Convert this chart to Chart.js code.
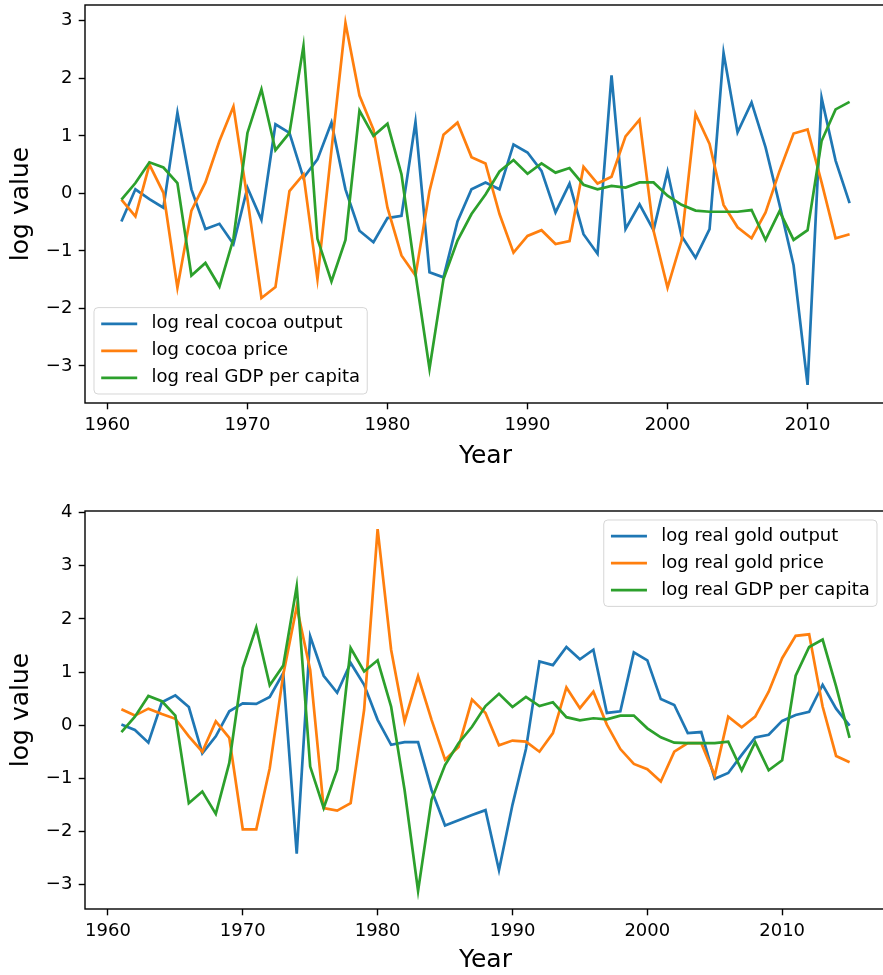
<!DOCTYPE html>
<html>
<head>
<meta charset="utf-8">
<script src="https://cdn.jsdelivr.net/npm/chart.js@4.4.0/dist/chart.umd.min.js"></script>
<style>
  html, body { margin: 0; padding: 0; background: #fff; }
  #page {
    width: 883px;
    height: 975px;
    position: relative;
    overflow: clip;
    contain: paint;
  }
  #page canvas { position: absolute; left: 0; }
  #cocoa { top: 0; }
  #gold { top: 490px; }
</style>
</head>
<body>
<div id="page">
  <canvas id="cocoa" width="890" height="490"></canvas>
  <canvas id="gold" width="890" height="485"></canvas>
</div>
<script>
// ---- cocoa panel, 1961-2013 ----
const cocoaYears = [
  1961, 1962, 1963, 1964, 1965, 1966, 1967, 1968, 1969, 1970,
  1971, 1972, 1973, 1974, 1975, 1976, 1977, 1978, 1979, 1980,
  1981, 1982, 1983, 1984, 1985, 1986, 1987, 1988, 1989, 1990,
  1991, 1992, 1993, 1994, 1995, 1996, 1997, 1998, 1999, 2000,
  2001, 2002, 2003, 2004, 2005, 2006, 2007, 2008, 2009, 2010,
  2011, 2012, 2013
];
const cocoaOutput = [
  -0.49, 0.07, -0.10, -0.25, 1.40, 0.07, -0.62, -0.53, -0.88, 0.10,
  -0.46, 1.20, 1.05, 0.27, 0.59, 1.23, 0.07, -0.65, -0.85, -0.43,
  -0.39, 1.24, -1.37, -1.46, -0.49, 0.07, 0.19, 0.07, 0.85, 0.71,
  0.39, -0.33, 0.17, -0.71, -1.05, 2.05, -0.62, -0.19, -0.64, 0.38,
  -0.74, -1.12, -0.62, 2.44, 1.06, 1.58, 0.80, -0.20, -1.25, -3.33,
  1.66, 0.57, -0.17
];
const cocoaPrice = [
  -0.11, -0.40, 0.50, 0.01, -1.64, -0.30, 0.19, 0.91, 1.51, -0.10,
  -1.82, -1.63, 0.04, 0.33, -1.49, 0.75, 2.96, 1.70, 1.11, -0.25,
  -1.08, -1.43, 0.04, 1.02, 1.23, 0.63, 0.52, -0.36, -1.03, -0.74,
  -0.64, -0.88, -0.83, 0.46, 0.17, 0.29, 0.99, 1.28, -0.65, -1.64,
  -0.82, 1.38, 0.86, -0.20, -0.59, -0.78, -0.33, 0.39, 1.04, 1.11,
  0.19, -0.78, -0.71
];
const cocoaGdp = [
  -0.11, 0.18, 0.54, 0.45, 0.18, -1.43, -1.21, -1.62, -0.79, 1.05,
  1.81, 0.75, 1.05, 2.56, -0.79, -1.53, -0.81, 1.44, 1.00, 1.21,
  0.33, -1.40, -3.05, -1.49, -0.82, -0.36, -0.02, 0.38, 0.58, 0.34,
  0.52, 0.36, 0.44, 0.15, 0.07, 0.13, 0.10, 0.19, 0.19, -0.04,
  -0.20, -0.30, -0.32, -0.32, -0.32, -0.29, -0.81, -0.31, -0.81, -0.64,
  0.91, 1.46, 1.59
];
const cocoaLabels = ['log real cocoa output', 'log cocoa price', 'log real GDP per capita'];

// ---- gold panel, 1961-2015 ----
const goldYears = [
  1961, 1962, 1963, 1964, 1965, 1966, 1967, 1968, 1969, 1970,
  1971, 1972, 1973, 1974, 1975, 1976, 1977, 1978, 1979, 1980,
  1981, 1982, 1983, 1984, 1985, 1986, 1987, 1988, 1989, 1990,
  1991, 1992, 1993, 1994, 1995, 1996, 1997, 1998, 1999, 2000,
  2001, 2002, 2003, 2004, 2005, 2006, 2007, 2008, 2009, 2010,
  2011, 2012, 2013, 2014, 2015
];
const goldOutput = [
  0.01, -0.09, -0.33, 0.43, 0.56, 0.34, -0.53, -0.21, 0.26, 0.41,
  0.40, 0.53, 0.98, -2.42, 1.67, 0.93, 0.61, 1.17, 0.76, 0.10,
  -0.37, -0.32, -0.32, -1.22, -1.89, -1.79, -1.69, -1.60, -2.73, -1.50,
  -0.45, 1.20, 1.13, 1.47, 1.24, 1.42, 0.23, 0.26, 1.37, 1.22,
  0.49, 0.38, -0.15, -0.13, -1.01, -0.90, -0.56, -0.23, -0.18, 0.08,
  0.19, 0.25, 0.76, 0.31, -0.01
];
const goldPrice = [
  0.30, 0.18, 0.31, 0.21, 0.12, -0.21, -0.50, 0.07, -0.24, -1.96,
  -1.96, -0.81, 0.95, 2.23, 1.04, -1.56, -1.61, -1.47, 0.29, 3.69,
  1.42, 0.07, 0.92, 0.10, -0.65, -0.41, 0.48, 0.23, -0.38, -0.29,
  -0.31, -0.50, -0.15, 0.71, 0.32, 0.63, 0.01, -0.45, -0.73, -0.83,
  -1.06, -0.50, -0.34, -0.34, -0.95, 0.16, -0.04, 0.16, 0.63, 1.26,
  1.68, 1.71, 0.35, -0.58, -0.70
];
const goldGdp = [
  -0.13, 0.16, 0.55, 0.45, 0.18, -1.47, -1.25, -1.67, -0.71, 1.08,
  1.84, 0.75, 1.12, 2.61, -0.78, -1.56, -0.84, 1.45, 1.01, 1.22,
  0.35, -1.22, -3.12, -1.40, -0.75, -0.34, -0.03, 0.36, 0.59, 0.34,
  0.53, 0.36, 0.43, 0.15, 0.09, 0.13, 0.11, 0.18, 0.18, -0.06,
  -0.23, -0.33, -0.34, -0.34, -0.34, -0.31, -0.85, -0.32, -0.85, -0.66,
  0.93, 1.47, 1.61, 0.73, -0.24
];
const goldLabels = ['log real gold output', 'log real gold price', 'log real GDP per capita'];

const xTicksStep = 10;
const yTicksStep = 1;

const FONT = "'DejaVu Sans', sans-serif";
const COLORS = ['#1f77b4', '#ff7f0e', '#2ca02c'];

// 5% data margins on both ends, like matplotlib autoscaling
function padRange(arrays) {
  const all = arrays.flat();
  const lo = Math.min(...all), hi = Math.max(...all);
  const m = (hi - lo) * 0.05;
  return [lo - m, hi + m];
}

const minusFmt = v => (v < 0 ? '\u2212' + Math.abs(v) : String(v));

// full box around the plot area
const framePlugin = {
  id: 'frame',
  afterDatasetsDraw(chart) {
    const { ctx, chartArea: a } = chart;
    ctx.save();
    ctx.strokeStyle = '#000';
    ctx.lineWidth = 1.4;
    ctx.strokeRect(a.left, a.top, a.right - a.left, a.bottom - a.top);
    ctx.restore();
  }
};

// legend drawn inside the plot area with a rounded translucent box
const boxLegend = {
  id: 'boxLegend',
  afterDatasetsDraw(chart, args, opts) {
    const { ctx, chartArea: a } = chart;
    const fs = opts.fontSize;
    const sets = chart.data.datasets;
    ctx.save();
    ctx.font = fs + 'px ' + FONT;
    const pad = 0.4 * fs, handle = 2 * fs, hpad = 0.8 * fs;
    const rowH = fs, gap = 0.5 * fs, edge = 0.5 * fs;
    const textW = Math.max(...sets.map(d => ctx.measureText(d.label).width));
    const w = pad * 2 + handle + hpad + textW;
    const h = pad * 2 + rowH * sets.length + gap * (sets.length - 1);
    const x = opts.loc.includes('left') ? a.left + edge : a.right - edge - w;
    const y = opts.loc.includes('lower') ? a.bottom - edge - h : a.top + edge;

    ctx.beginPath();
    ctx.roundRect(x, y, w, h, 4);
    ctx.fillStyle = 'rgba(255,255,255,0.8)';
    ctx.fill();
    ctx.strokeStyle = 'rgba(204,204,204,0.8)';
    ctx.lineWidth = 1;
    ctx.stroke();

    sets.forEach((d, i) => {
      const cy = y + pad + rowH / 2 + i * (rowH + gap);
      ctx.strokeStyle = d.borderColor;
      ctx.lineWidth = d.borderWidth;
      ctx.beginPath();
      ctx.moveTo(x + pad, cy);
      ctx.lineTo(x + pad + handle, cy);
      ctx.stroke();
      ctx.fillStyle = '#000';
      ctx.textBaseline = 'middle';
      ctx.textAlign = 'left';
      ctx.fillText(d.label, x + pad + handle + hpad, cy);
    });
    ctx.restore();
  }
};

function makeChart(id, years, series, labels, opts) {
  const [ymin, ymax] = padRange(series);
  const [xmin, xmax] = padRange([years]);

  return new Chart(document.getElementById(id), {
    type: 'line',
    data: {
      datasets: series.map((vals, i) => ({
        label: labels[i],
        data: vals.map((v, k) => ({ x: years[k], y: v })),
        borderColor: COLORS[i],
        borderWidth: 2.7,
        pointRadius: 0,
        tension: 0,
        fill: false,
        order: series.length - i // later series on top
      }))
    },
    options: {
      responsive: false,
      animation: false,
      devicePixelRatio: 1,
      layout: { padding: opts.padding },
      plugins: {
        legend: { display: false },
        tooltip: { enabled: false },
        boxLegend: { loc: opts.legendLoc, fontSize: 18 }
      },
      scales: {
        x: {
          type: 'linear',
          min: xmin,
          max: xmax,
          afterFit: s => {
            s.height = opts.xAxisHeight;
            s.paddingLeft = 0;
            s.paddingRight = 0;
          },
          border: { display: false },
          grid: { drawOnChartArea: false, drawTicks: true, tickLength: 6.3, tickWidth: 1.4, tickColor: '#000' },
          ticks: {
            stepSize: xTicksStep,
            includeBounds: false,
            autoSkip: false,
            maxRotation: 0,
            padding: 5,
            color: '#000',
            font: { family: FONT, size: 18 },
            callback: v => String(v)
          },
          title: {
            display: true,
            text: 'Year',
            color: '#000',
            font: { family: FONT, size: 25 },
            padding: { top: 0, bottom: 0 }
          }
        },
        y: {
          min: ymin,
          max: ymax,
          afterFit: s => {
            s.width = 85;
            s.paddingTop = 0;
            s.paddingBottom = 0;
          },
          border: { display: false },
          grid: { drawOnChartArea: false, drawTicks: true, tickLength: 6.3, tickWidth: 1.4, tickColor: '#000' },
          ticks: {
            stepSize: yTicksStep,
            includeBounds: false,
            padding: 6.3,
            color: '#000',
            font: { family: FONT, size: 18 },
            callback: minusFmt
          },
          title: {
            display: true,
            text: 'log value',
            color: '#000',
            font: { family: FONT, size: 25 },
            padding: { top: 6, bottom: 0 }
          }
        }
      }
    },
    plugins: [framePlugin, boxLegend]
  });
}

// plot areas run a few pixels past the clipped page edge on the right
makeChart('cocoa', cocoaYears, [cocoaOutput, cocoaPrice, cocoaGdp], cocoaLabels, {
  padding: { top: 5, bottom: 19, left: 0, right: 4 },
  xAxisHeight: 68,
  legendLoc: 'lower left'
});

makeChart('gold', goldYears, [goldOutput, goldPrice, goldGdp], goldLabels, {
  padding: { top: 21, bottom: 0, left: 0, right: 4 },
  xAxisHeight: 66,
  legendLoc: 'upper right'
});
</script>
</body>
</html>
